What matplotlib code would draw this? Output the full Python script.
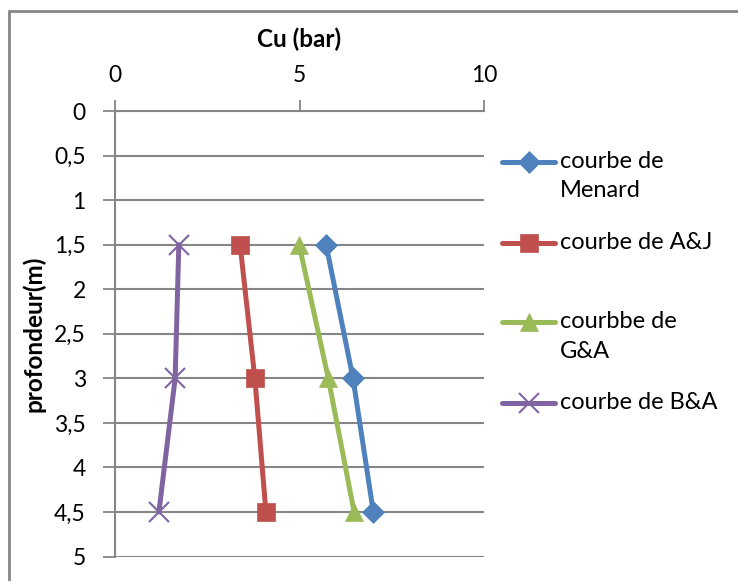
import matplotlib.pyplot as plt
from matplotlib.lines import Line2D
from matplotlib.patches import Rectangle
from matplotlib.ticker import FuncFormatter

# profondeur (m) et Cu (bar)
profondeur = [1.5, 3.0, 4.5]
cu_menard = [5.72, 6.45, 7.0]
cu_aj = [3.39, 3.79, 4.09]
cu_ga = [4.99, 5.78, 6.48]
cu_ba = [1.73, 1.63, 1.19]

labels = ["courbe de\nMenard", "courbe de A&J", "courbbe de\nG&A", "courbe de B&A"]
couleurs = ["#4F81BD", "#C0504D", "#9BBB59", "#8064A2"]
marqueurs = ["D", "s", "^", "x"]
tailles = [11, 13, 13, 14]

plt.rcParams['font.family'] = ['Lato', 'DejaVu Sans']
plt.rcParams['font.size'] = 16.5

W, H = 738, 581
fig = plt.figure(figsize=(W / 100, H / 100), dpi=100)
ax = fig.add_axes([115 / W, 1 - 556.5 / H, (484 - 115) / W, (556.5 - 111) / H])

series = [cu_menard, cu_aj, cu_ga, cu_ba]
for vals, c, m, s in zip(series, couleurs, marqueurs, tailles):
    ax.plot(vals, profondeur, color=c, linewidth=3.6, marker=m, markersize=s,
            markeredgewidth=1.5 if m == "x" else 0.5, markeredgecolor=c,
            markerfacecolor=c, solid_capstyle='round', clip_on=False, zorder=3)

ax.set_xlim(0, 10)
ax.set_ylim(5, 0)
ax.set_xticks([0, 5, 10])
ax.set_yticks([0, 0.5, 1, 1.5, 2, 2.5, 3, 3.5, 4, 4.5, 5])
ax.yaxis.set_major_formatter(FuncFormatter(lambda v, p: f"{v:g}".replace(".", ",")))
ax.xaxis.tick_top()
ax.xaxis.set_label_position('top')
ax.set_xlabel("Cu (bar)", fontweight='bold', fontsize=17.5, labelpad=13)
ax.set_ylabel("profondeur(m)", fontweight='bold', fontsize=17.5, labelpad=6)
ax.tick_params(axis='x', direction='out', length=8, width=1.3, color='#868686', pad=10)
ax.tick_params(axis='y', direction='out', length=9, width=1.3, color='#868686', pad=12)

ax.grid(axis='y', color='#868686', linewidth=1.5)
ax.set_axisbelow(True)
for side in ['right', 'bottom']:
    ax.spines[side].set_visible(False)
for side in ['left', 'top']:
    ax.spines[side].set_color('#868686')
    ax.spines[side].set_linewidth(1.5)

# cadre extérieur du graphique
fig.add_artist(Rectangle((9 / W, -0.1), 1.2, 1 - 11 / H + 0.1, transform=fig.transFigure,
                         fill=False, edgecolor='#868686', linewidth=2))

# légende
leg_y = [162, 243, 322, 403]
for lab, c, m, s, y in zip(labels, couleurs, marqueurs, tailles, leg_y):
    yf = 1 - y / H
    fig.add_artist(Line2D([502 / W, 555 / W], [yf, yf], transform=fig.transFigure,
                          color=c, linewidth=3.6, solid_capstyle='round'))
    fig.add_artist(Line2D([528.5 / W], [yf], transform=fig.transFigure, color=c,
                          marker=m, markersize=s, markerfacecolor=c, markeredgecolor=c,
                          markeredgewidth=1.5 if m == "x" else 0.5))
    fig.text(560 / W, yf + 11 / H, lab, ha='left', va='top', fontsize=17, linespacing=1.5)

fig.savefig("out.png", dpi=100)
